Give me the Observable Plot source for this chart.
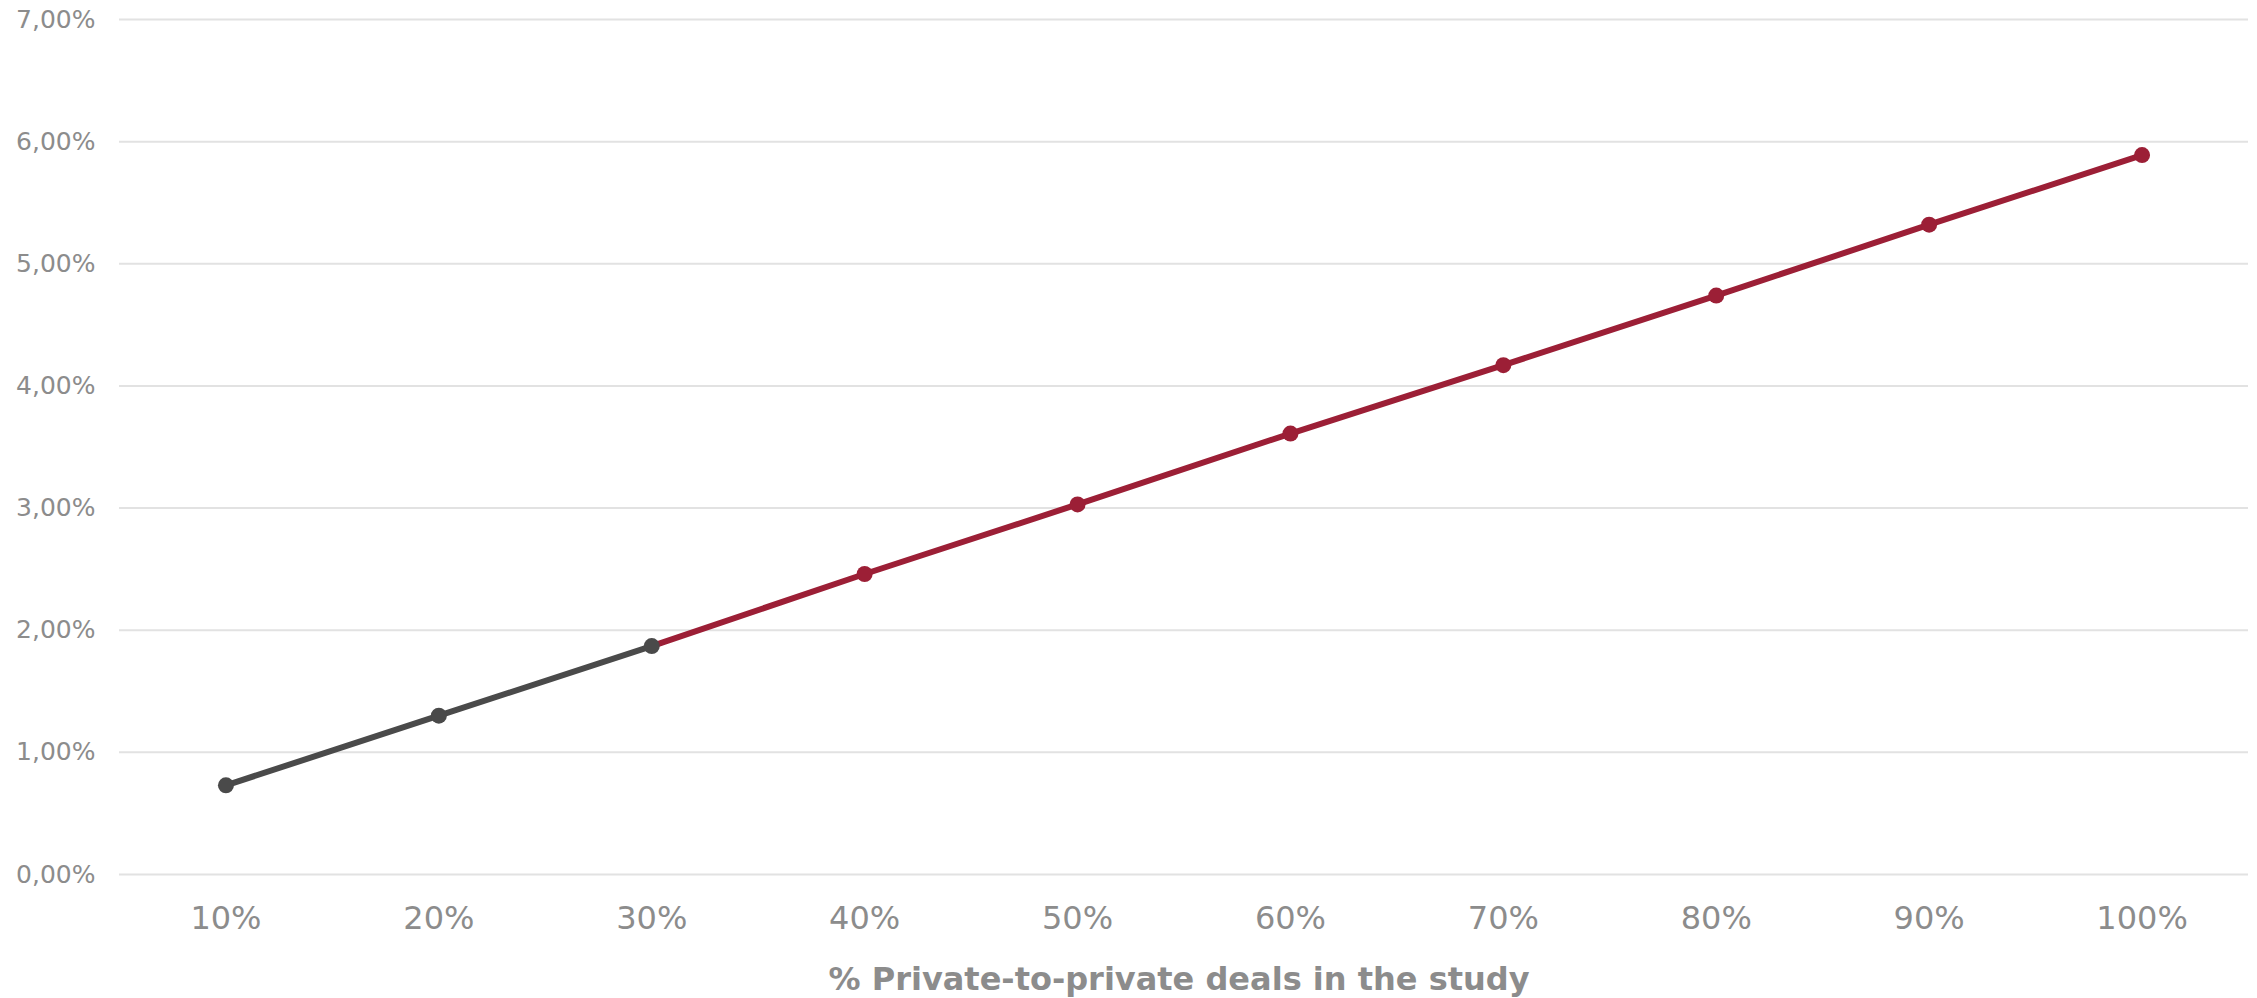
<!DOCTYPE html>
<html>
<head>
<meta charset="utf-8">
<script src="https://cdn.jsdelivr.net/npm/d3@7"></script>
<script src="https://cdn.jsdelivr.net/npm/@observablehq/plot@0.6"></script>
<style>
  html, body { margin: 0; padding: 0; background: #ffffff; }
  #chart svg { display: block; }
</style>
</head>
<body>
<div id="chart"></div>
<script>
// Share of private-to-private deals included in the study (x categories)
const shares = ["10%", "20%", "30%", "40%", "50%", "60%", "70%", "80%", "90%", "100%"];
// Resulting value for each share, in percent
const values = [0.73, 1.30, 1.87, 2.46, 3.03, 3.61, 4.17, 4.74, 5.32, 5.89];
// The first three shares form the dark segment, the rest the red one
const darkCount = 3;
// Y axis tick values (percent)
const yTicks = [0, 1, 2, 3, 4, 5, 6, 7];
const xTitle = "% Private-to-private deals in the study";

const rows = shares.map((s, i) => ({share: s, value: values[i], i}));
const darkRows = rows.slice(0, darkCount);
const redRows = rows.slice(darkCount - 1);

const dark = "#4a4a4a";
const red = "#9c1f36";
const textGray = "#8c8c8c";

const fmt = d => d.toFixed(2).replace(".", ",") + "%";

const chart = Plot.plot({
  width: 2257,
  height: 998,
  marginTop: 19,
  marginBottom: 124,
  marginLeft: 119,
  marginRight: 9,
  style: {fontFamily: "'DejaVu Sans', Verdana, sans-serif", color: textGray, background: "#ffffff"},
  x: {type: "point", domain: shares, padding: 0.5, align: 0.5, round: false},
  y: {domain: [0, 7]},
  marks: [
    Plot.ruleY(yTicks, {stroke: "#e2e2e2", strokeWidth: 2}),
    Plot.axisY(yTicks, {tickSize: 0, tickPadding: 24, tickFormat: fmt, fontSize: 25, fill: textGray, label: null}),
    Plot.axisX({tickSize: 0, tickPadding: 32, fontSize: 32, fill: textGray, label: null}),
    Plot.line(redRows, {x: "share", y: "value", stroke: red, strokeWidth: 6}),
    Plot.line(darkRows, {x: "share", y: "value", stroke: dark, strokeWidth: 6}),
    Plot.dot(redRows.slice(1), {x: "share", y: "value", r: 8, fill: red}),
    Plot.dot(darkRows, {x: "share", y: "value", r: 8, fill: dark}),
    Plot.text([xTitle], {frameAnchor: "bottom", lineAnchor: "bottom", dy: 115, dx: -5, fontSize: 32, fontWeight: "bold", fill: textGray})
  ]
});

document.getElementById("chart").appendChild(chart);
</script>
</body>
</html>
